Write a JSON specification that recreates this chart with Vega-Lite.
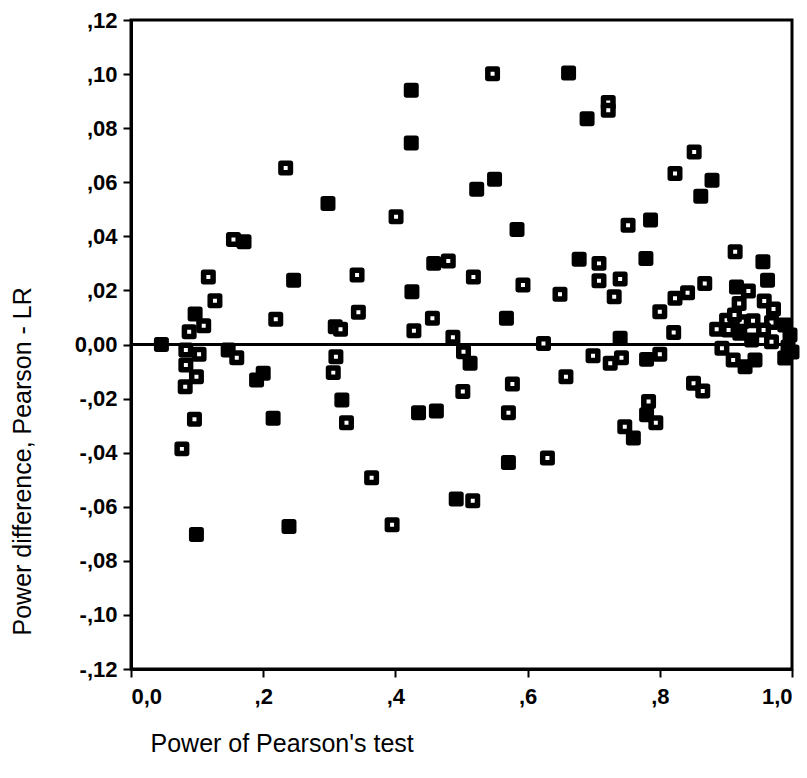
{
  "$schema": "https://vega.github.io/schema/vega-lite/v6.json",
  "width": 661,
  "height": 649,
  "autosize": {"type": "none"},
  "padding": {"left": 131, "top": 20, "right": 15, "bottom": 109},
  "background": "white",
  "config": {
    "view": {"stroke": "black", "strokeWidth": 3},
    "axis": {
      "domainColor": "black", "domainWidth": 3,
      "tickColor": "black", "tickWidth": 2, "tickSize": 8,
      "labelColor": "black", "labelFont": "Liberation Sans", "labelFontWeight": "bold", "labelFontSize": 22,
      "titleColor": "black", "titleFont": "Liberation Sans", "titleFontWeight": "normal", "titleFontSize": 25,
      "grid": false
    }
  },
  "data": {
    "values": [
      {"power": 0.234, "diff": 0.0653, "n": 1},
      {"power": 0.298, "diff": 0.0521, "n": 2},
      {"power": 0.155, "diff": 0.0388, "n": 1},
      {"power": 0.171, "diff": 0.0380, "n": 2},
      {"power": 0.547, "diff": 0.1001, "n": 1},
      {"power": 0.662, "diff": 0.1004, "n": 2},
      {"power": 0.424, "diff": 0.0940, "n": 2},
      {"power": 0.690, "diff": 0.0835, "n": 2},
      {"power": 0.424, "diff": 0.0745, "n": 2},
      {"power": 0.550, "diff": 0.0611, "n": 2},
      {"power": 0.523, "diff": 0.0574, "n": 2},
      {"power": 0.401, "diff": 0.0472, "n": 1},
      {"power": 0.584, "diff": 0.0425, "n": 2},
      {"power": 0.722, "diff": 0.0895, "n": 1},
      {"power": 0.722, "diff": 0.0866, "n": 1},
      {"power": 0.852, "diff": 0.0712, "n": 1},
      {"power": 0.823, "diff": 0.0632, "n": 1},
      {"power": 0.862, "diff": 0.0548, "n": 2},
      {"power": 0.879, "diff": 0.0607, "n": 2},
      {"power": 0.752, "diff": 0.0441, "n": 1},
      {"power": 0.786, "diff": 0.0460, "n": 2},
      {"power": 0.117, "diff": 0.0250, "n": 1},
      {"power": 0.127, "diff": 0.0162, "n": 1},
      {"power": 0.246, "diff": 0.0238, "n": 2},
      {"power": 0.097, "diff": 0.0113, "n": 2},
      {"power": 0.110, "diff": 0.0069, "n": 1},
      {"power": 0.088, "diff": 0.0047, "n": 1},
      {"power": 0.219, "diff": 0.0093, "n": 1},
      {"power": 0.046, "diff": 0.0000, "n": 2},
      {"power": 0.309, "diff": 0.0066, "n": 1},
      {"power": 0.317, "diff": 0.0056, "n": 1},
      {"power": 0.083, "diff": -0.0020, "n": 1},
      {"power": 0.103, "diff": -0.0036, "n": 1},
      {"power": 0.083, "diff": -0.0076, "n": 1},
      {"power": 0.099, "diff": -0.0119, "n": 1},
      {"power": 0.082, "diff": -0.0156, "n": 1},
      {"power": 0.096, "diff": -0.0276, "n": 1},
      {"power": 0.077, "diff": -0.0386, "n": 1},
      {"power": 0.147, "diff": -0.0020, "n": 2},
      {"power": 0.160, "diff": -0.0049, "n": 1},
      {"power": 0.200, "diff": -0.0106, "n": 2},
      {"power": 0.190, "diff": -0.0131, "n": 2},
      {"power": 0.215, "diff": -0.0273, "n": 2},
      {"power": 0.310, "diff": -0.0045, "n": 1},
      {"power": 0.306, "diff": -0.0104, "n": 1},
      {"power": 0.319, "diff": -0.0205, "n": 2},
      {"power": 0.326, "diff": -0.0289, "n": 1},
      {"power": 0.678, "diff": 0.0315, "n": 2},
      {"power": 0.458, "diff": 0.0300, "n": 2},
      {"power": 0.480, "diff": 0.0309, "n": 1},
      {"power": 0.342, "diff": 0.0257, "n": 1},
      {"power": 0.518, "diff": 0.0250, "n": 1},
      {"power": 0.425, "diff": 0.0195, "n": 2},
      {"power": 0.593, "diff": 0.0220, "n": 1},
      {"power": 0.649, "diff": 0.0186, "n": 1},
      {"power": 0.344, "diff": 0.0119, "n": 1},
      {"power": 0.456, "diff": 0.0097, "n": 1},
      {"power": 0.428, "diff": 0.0051, "n": 1},
      {"power": 0.568, "diff": 0.0097, "n": 2},
      {"power": 0.487, "diff": 0.0027, "n": 1},
      {"power": 0.503, "diff": -0.0027, "n": 1},
      {"power": 0.513, "diff": -0.0069, "n": 2},
      {"power": 0.624, "diff": 0.0004, "n": 1},
      {"power": 0.658, "diff": -0.0119, "n": 1},
      {"power": 0.577, "diff": -0.0146, "n": 1},
      {"power": 0.502, "diff": -0.0174, "n": 1},
      {"power": 0.435, "diff": -0.0252, "n": 2},
      {"power": 0.462, "diff": -0.0246, "n": 2},
      {"power": 0.571, "diff": -0.0252, "n": 1},
      {"power": 0.571, "diff": -0.0436, "n": 2},
      {"power": 0.630, "diff": -0.0420, "n": 1},
      {"power": 0.364, "diff": -0.0493, "n": 1},
      {"power": 0.914, "diff": 0.0343, "n": 1},
      {"power": 0.956, "diff": 0.0306, "n": 2},
      {"power": 0.779, "diff": 0.0318, "n": 2},
      {"power": 0.708, "diff": 0.0300, "n": 1},
      {"power": 0.708, "diff": 0.0236, "n": 1},
      {"power": 0.740, "diff": 0.0242, "n": 1},
      {"power": 0.963, "diff": 0.0238, "n": 2},
      {"power": 0.731, "diff": 0.0177, "n": 1},
      {"power": 0.868, "diff": 0.0226, "n": 1},
      {"power": 0.842, "diff": 0.0191, "n": 1},
      {"power": 0.823, "diff": 0.0171, "n": 1},
      {"power": 0.916, "diff": 0.0213, "n": 2},
      {"power": 0.934, "diff": 0.0198, "n": 1},
      {"power": 0.800, "diff": 0.0121, "n": 1},
      {"power": 0.958, "diff": 0.0161, "n": 1},
      {"power": 0.972, "diff": 0.0131, "n": 1},
      {"power": 0.920, "diff": 0.0152, "n": 1},
      {"power": 0.821, "diff": 0.0044, "n": 1},
      {"power": 0.901, "diff": 0.0090, "n": 1},
      {"power": 0.924, "diff": 0.0084, "n": 1},
      {"power": 0.941, "diff": 0.0088, "n": 1},
      {"power": 0.913, "diff": 0.0109, "n": 1},
      {"power": 0.886, "diff": 0.0056, "n": 1},
      {"power": 0.904, "diff": 0.0054, "n": 1},
      {"power": 0.969, "diff": 0.0081, "n": 1},
      {"power": 0.957, "diff": 0.0054, "n": 1},
      {"power": 0.969, "diff": 0.0010, "n": 1},
      {"power": 0.921, "diff": 0.0042, "n": 2},
      {"power": 0.939, "diff": 0.0017, "n": 2},
      {"power": 0.989, "diff": 0.0072, "n": 2},
      {"power": 0.997, "diff": 0.0035, "n": 2},
      {"power": 0.994, "diff": -0.0009, "n": 2},
      {"power": 0.989, "diff": -0.0050, "n": 2},
      {"power": 1.000, "diff": -0.0028, "n": 2},
      {"power": 0.740, "diff": 0.0023, "n": 2},
      {"power": 0.699, "diff": -0.0042, "n": 1},
      {"power": 0.725, "diff": -0.0069, "n": 1},
      {"power": 0.742, "diff": -0.0049, "n": 1},
      {"power": 0.780, "diff": -0.0055, "n": 2},
      {"power": 0.800, "diff": -0.0036, "n": 1},
      {"power": 0.894, "diff": -0.0014, "n": 1},
      {"power": 0.911, "diff": -0.0057, "n": 1},
      {"power": 0.929, "diff": -0.0082, "n": 2},
      {"power": 0.944, "diff": -0.0057, "n": 2},
      {"power": 0.851, "diff": -0.0143, "n": 1},
      {"power": 0.865, "diff": -0.0172, "n": 1},
      {"power": 0.783, "diff": -0.0211, "n": 1},
      {"power": 0.780, "diff": -0.0260, "n": 2},
      {"power": 0.794, "diff": -0.0289, "n": 1},
      {"power": 0.747, "diff": -0.0304, "n": 1},
      {"power": 0.760, "diff": -0.0346, "n": 2},
      {"power": 0.492, "diff": -0.0571, "n": 2},
      {"power": 0.517, "diff": -0.0578, "n": 1},
      {"power": 0.395, "diff": -0.0667, "n": 1},
      {"power": 0.099, "diff": -0.0703, "n": 2},
      {"power": 0.239, "diff": -0.0673, "n": 2}
    ]
  },
  "layer": [
    {
      "mark": {"type": "rule", "color": "black", "strokeWidth": 3},
      "encoding": {"y": {"datum": 0, "type": "quantitative"}}
    },
    {
      "mark": {"type": "point", "shape": "square", "size": 90, "stroke": "black", "strokeWidth": 5.5, "strokeJoin": "round", "opacity": 1},
      "encoding": {
        "x": {
          "field": "power", "type": "quantitative",
          "scale": {"domain": [0, 1], "nice": false, "zero": false},
          "axis": {
            "values": [0, 0.2, 0.4, 0.6, 0.8, 1.0],
            "labelExpr": "datum.value == 0 ? '0,0' : replace(replace(format(datum.value, '.1f'), '0.', ','), '.', ',')",
            "labelPadding": 9,
            "title": "Power of Pearson's test",
            "titleAnchor": "start", "titleAlign": "left", "titleX": 19, "titleY": 82, "titleBaseline": "alphabetic"
          }
        },
        "y": {
          "field": "diff", "type": "quantitative",
          "scale": {"domain": [-0.12, 0.12], "nice": false, "zero": false},
          "axis": {
            "values": [-0.12, -0.1, -0.08, -0.06, -0.04, -0.02, 0, 0.02, 0.04, 0.06, 0.08, 0.1, 0.12],
            "labelExpr": "datum.value == 0 ? '0,00' : (datum.value < 0 ? '-' : '') + replace(format(abs(datum.value), '.2f'), '0.', ',')",
            "labelPadding": 6,
            "title": "Power difference, Pearson - LR",
            "titleAngle": -90, "titleAlign": "left", "titleBaseline": "middle", "titleX": -109, "titleY": 615
          }
        },
        "fill": {
          "field": "n", "type": "nominal",
          "scale": {"domain": [1, 2], "range": ["white", "black"]},
          "legend": null
        }
      }
    }
  ]
}
